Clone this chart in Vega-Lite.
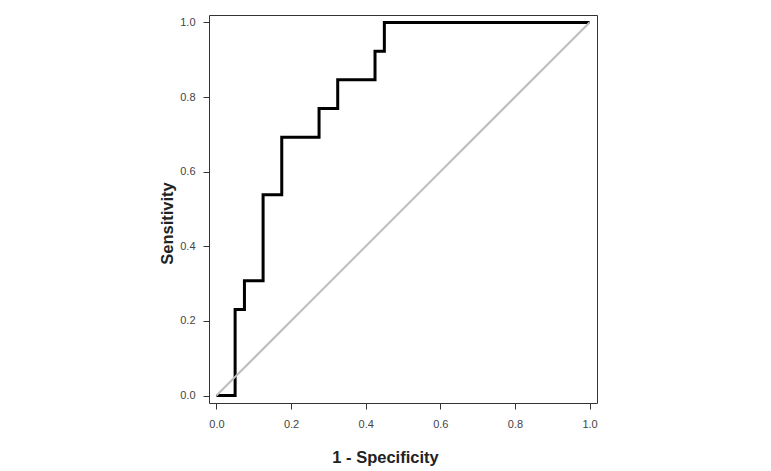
{
  "$schema": "https://vega.github.io/schema/vega-lite/v6.json",
  "autosize": {"type": "none"},
  "width": 388,
  "height": 388,
  "padding": {"left": 209, "top": 15, "right": 174, "bottom": 68},
  "background": "white",
  "config": {
    "view": {"stroke": "#333333", "strokeWidth": 1},
    "axis": {
      "grid": false,
      "domain": false,
      "tickColor": "#333333",
      "tickSize": 6,
      "labelFont": "Liberation Sans",
      "labelFontSize": 11,
      "labelColor": "#444444",
      "titleFont": "Liberation Sans",
      "titleFontSize": 16.5,
      "titleFontWeight": "bold",
      "titleColor": "#222222"
    }
  },
  "datasets": {
    "roc": [
      {"fpr": 0.0, "tpr": 0.0},
      {"fpr": 0.05, "tpr": 0.2308},
      {"fpr": 0.075, "tpr": 0.3077},
      {"fpr": 0.125, "tpr": 0.5385},
      {"fpr": 0.175, "tpr": 0.6923},
      {"fpr": 0.275, "tpr": 0.7692},
      {"fpr": 0.325, "tpr": 0.8462},
      {"fpr": 0.425, "tpr": 0.9231},
      {"fpr": 0.45, "tpr": 1.0},
      {"fpr": 1.0, "tpr": 1.0}
    ],
    "diag": [
      {"fpr": 0.0, "tpr": 0.0},
      {"fpr": 1.0, "tpr": 1.0}
    ]
  },
  "layer": [
    {
      "data": {"name": "roc"},
      "mark": {"type": "line", "interpolate": "step-after", "color": "#000000", "strokeWidth": 3, "strokeCap": "butt", "strokeJoin": "miter"},
      "encoding": {
        "x": {
          "field": "fpr", "type": "quantitative",
          "scale": {"domain": [-0.02, 1.02], "nice": false, "zero": false},
          "axis": {"values": [0, 0.2, 0.4, 0.6, 0.8, 1.0], "format": ".1f", "title": "1 - Specificity", "labelPadding": 9, "titleX": 176, "titleY": 59, "titleBaseline": "alphabetic", "titleAnchor": null, "titleAlign": "center"}
        },
        "y": {
          "field": "tpr", "type": "quantitative",
          "scale": {"domain": [-0.02, 1.02], "nice": false, "zero": false},
          "axis": {"values": [0, 0.2, 0.4, 0.6, 0.8, 1.0], "format": ".1f", "title": "Sensitivity", "labelPadding": 8, "titleX": -37, "titleY": 208, "titleBaseline": "alphabetic", "titleAngle": -90, "titleAlign": "center"}
        }
      }
    },
    {
      "data": {"name": "diag"},
      "mark": {"type": "line", "color": "#bdbdbd", "strokeWidth": 2},
      "encoding": {
        "x": {"field": "fpr", "type": "quantitative"},
        "y": {"field": "tpr", "type": "quantitative"}
      }
    }
  ]
}
